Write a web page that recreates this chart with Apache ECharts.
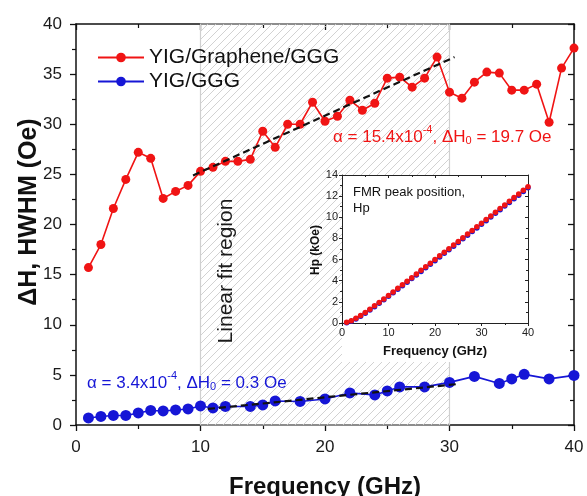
<!DOCTYPE html>
<html><head><meta charset="utf-8">
<script src="https://cdn.jsdelivr.net/npm/echarts@6/dist/echarts.min.js"></script>
<style>html,body{margin:0;padding:0;background:#fff}#c{width:587px;height:496px}</style>
</head><body><div id="c"></div>
<script>
// ---- data ----
const freqRed = [1,2,3,4,5,6,7,8,9,10,11,12,13,14,15,16,17,18,19,20,21,22,23,24,25,26,27,28,29,30,31,32,33,34,35,36,37,38,39,40];
const dhRed = [15.7,18.0,21.6,24.5,27.2,26.6,22.6,23.3,23.9,25.3,25.7,26.3,26.3,26.5,29.3,27.7,30.0,30.0,32.2,30.3,30.8,32.4,31.4,32.1,34.6,34.7,33.7,34.6,36.7,33.2,32.6,34.2,35.2,35.1,33.4,33.4,34.0,30.2,35.6,37.6];
const freqBlue = [1,2,3,4,5,6,7,8,9,10,11,12,14,15,16,18,20,22,24,25,26,28,30,32,34,35,36,38,40];
const dhBlue = [0.7,0.85,0.95,0.95,1.2,1.45,1.4,1.5,1.6,1.9,1.7,1.85,1.85,2.0,2.4,2.35,2.6,3.2,3.0,3.4,3.8,3.8,4.25,4.85,4.15,4.6,5.05,4.6,4.95];
const fitRedX = [9.4, 30.4];
const fitRedY = [24.9, 36.7];
const fitBlueX = [10.6, 30.8];
const fitBlueY = [1.6, 4.1];
const fitRegion = [10, 30];
const insetFreq = [1,2,3,4,5,6,7,8,9,10,11,12,13,14,15,16,17,18,19,20,21,22,23,24,25,26,27,28,29,30,31,32,33,34,35,36,37,38,39,40];
const hpRed = [0.06,0.22,0.44,0.71,1.00,1.31,1.62,1.95,2.28,2.61,2.94,3.28,3.61,3.95,4.29,4.63,4.98,5.32,5.66,6.00,6.35,6.69,7.03,7.38,7.72,8.06,8.41,8.75,9.10,9.44,9.79,10.13,10.48,10.82,11.17,11.51,11.86,12.21,12.55,12.90];
const hpBlue = [0.02,0.17,0.38,0.64,0.93,1.23,1.54,1.87,2.20,2.52,2.86,3.19,3.52,3.86,4.20,4.54,4.88,5.22,5.56,5.90,6.25,6.59,6.93,7.27,7.62,7.96,8.30,8.65,8.99,9.33,9.68,10.03,10.37,10.72,11.06,11.41,11.75,12.09,12.44,12.80];

const RED = '#f01414', BLUE = '#1616d6';
const FONT = 'Liberation Sans, Arial, sans-serif';
const zip = (a,b) => a.map((v,i)=>[v,b[i]]);

// hatch pattern
const T = 8;
const pc = document.createElement('canvas');
pc.width = T; pc.height = T;
const pctx = pc.getContext('2d');
pctx.strokeStyle = '#cdcdcd'; pctx.lineWidth = 0.9;
pctx.beginPath();
pctx.moveTo(-1,T+1); pctx.lineTo(T+1,-1);
pctx.moveTo(-1,1); pctx.lineTo(1,-1);
pctx.moveTo(T-1,T+1); pctx.lineTo(T+1,T-1);
pctx.stroke();

const chart = echarts.init(document.getElementById('c'), null, {renderer:'canvas'});

function mkAxis(extra){
  return Object.assign({
    type:'value', splitLine:{show:false},
    axisLine:{show:true, onZero:false, lineStyle:{color:'#111', width:1.5}},
    axisTick:{show:true, inside:false, length:6, lineStyle:{color:'#111', width:1.3}},
    minorTick:{show:true, splitNumber:2, length:4, lineStyle:{color:'#111', width:1.2}},
    axisLabel:{show:true, color:'#1a1a1a', fontSize:17, fontFamily:FONT, margin:14}
  }, extra);
}
const insetLine = {show:true, onZero:false, lineStyle:{color:'#222', width:1}};

const option = {
  animation:false,
  backgroundColor:'#fff',
  grid:[
    {left:76, top:24, right:13, bottom:71, outerBoundsMode:'none', containLabel:false},
    {left:342, top:175, width:186, height:148, outerBoundsMode:'none', containLabel:false}
  ],
  legend:{
    data:['YIG/Graphene/GGG','YIG/GGG'],
    left:92, top:42, orient:'vertical', itemWidth:46, itemHeight:12, itemGap:3,
    textStyle:{fontSize:21, color:'#111', fontFamily:FONT}
  },
  xAxis:[
    mkAxis({gridIndex:0, min:0, max:40, interval:10, position:'bottom',
      name:'Frequency (GHz)', nameLocation:'middle', nameGap:50,
      nameTextStyle:{fontSize:24, fontWeight:'bold', color:'#111', fontFamily:FONT}}),
    mkAxis({gridIndex:0, min:0, max:40, interval:10, position:'top',
      axisTick:{show:true, inside:true, length:6, lineStyle:{color:'#111', width:1.3}},
      minorTick:{show:true, splitNumber:2, length:4, lineStyle:{color:'#111', width:1.2}},
      axisLabel:{show:false}}),
    mkAxis({gridIndex:1, min:0, max:40, interval:10, position:'bottom', z:12,
      axisLine:insetLine,
      axisTick:{show:true, length:3, lineStyle:{color:'#222', width:1}},
      minorTick:{show:true, splitNumber:2, length:2, lineStyle:{color:'#222', width:1}},
      axisLabel:{color:'#222', fontSize:11, fontFamily:FONT, margin:4},
      name:'Frequency (GHz)', nameLocation:'middle', nameGap:22,
      nameTextStyle:{fontSize:13, fontWeight:'bold', color:'#111', fontFamily:FONT}}),
    mkAxis({gridIndex:1, min:0, max:40, interval:10, position:'top', z:12,
      axisLine:insetLine,
      axisTick:{show:true, inside:true, length:3, lineStyle:{color:'#222', width:1}},
      minorTick:{show:true, splitNumber:2, length:2, lineStyle:{color:'#222', width:1}},
      axisLabel:{show:false}})
  ],
  yAxis:[
    mkAxis({gridIndex:0, min:0, max:40, interval:5, position:'left'}),
    mkAxis({gridIndex:0, min:0, max:40, interval:5, position:'right',
      axisTick:{show:true, inside:true, length:6, lineStyle:{color:'#111', width:1.3}},
      minorTick:{show:true, splitNumber:2, length:4, lineStyle:{color:'#111', width:1.2}},
      axisLabel:{show:false}}),
    mkAxis({gridIndex:1, min:0, max:14, interval:2, position:'left', z:12,
      axisLine:insetLine,
      axisTick:{show:true, length:3, lineStyle:{color:'#222', width:1}},
      minorTick:{show:true, splitNumber:2, length:2, lineStyle:{color:'#222', width:1}},
      axisLabel:{color:'#222', fontSize:11, fontFamily:FONT, margin:4}}),
    mkAxis({gridIndex:1, min:0, max:14, interval:2, position:'right', z:12,
      axisLine:insetLine,
      axisTick:{show:true, inside:true, length:3, lineStyle:{color:'#222', width:1}},
      minorTick:{show:true, splitNumber:2, length:2, lineStyle:{color:'#222', width:1}},
      axisLabel:{show:false}})
  ],
  graphic:[
    {type:'rect', z:8, shape:{x:342, y:175, width:186, height:187}, style:{fill:'#fff'}, silent:true},
    {type:'text', z:9, x:226, y:271, rotation:Math.PI/2,
      style:{text:'Linear fit region', font:'21px '+FONT, fill:'#1a1a1a', align:'center', verticalAlign:'middle'}},
    {type:'text', z:60, x:29, y:212, rotation:Math.PI/2,
      style:{text:'ΔH, HWHM (Oe)', font:'bold 25px '+FONT, fill:'#111', align:'center', verticalAlign:'middle'}},
    {type:'text', z:60, x:316, y:250, rotation:Math.PI/2,
      style:{text:'Hp (kOe)', font:'bold 12px '+FONT, fill:'#111', align:'center', verticalAlign:'middle'}},
    {type:'text', z:120, x:353, y:184,
      style:{text:'FMR peak position,\nHp', font:'13px '+FONT, fill:'#111', lineHeight:16}},
    {type:'text', z:60, x:333, y:124,
      style:{text:'{a|α = 15.4x10}{sup|-4}{a|, ΔH}{sub|0}{a| = 19.7 Oe}',
        rich:{
          a:{fontSize:17, fontFamily:FONT, fill:RED, lineHeight:22, verticalAlign:'bottom'},
          sup:{fontSize:11, fontFamily:FONT, fill:RED, lineHeight:22, verticalAlign:'top'},
          sub:{fontSize:11, fontFamily:FONT, fill:RED, lineHeight:12, verticalAlign:'bottom'}
        }}},
    {type:'text', z:60, x:87, y:370,
      style:{text:'{a|α = 3.4x10}{sup|-4}{a|, ΔH}{sub|0}{a| = 0.3 Oe}',
        rich:{
          a:{fontSize:17, fontFamily:FONT, fill:BLUE, lineHeight:22, verticalAlign:'bottom'},
          sup:{fontSize:11, fontFamily:FONT, fill:BLUE, lineHeight:22, verticalAlign:'top'},
          sub:{fontSize:11, fontFamily:FONT, fill:BLUE, lineHeight:12, verticalAlign:'bottom'}
        }}}
  ],
  series:[
    {type:'line', name:'region', xAxisIndex:0, yAxisIndex:0, data:[], z:1, silent:true,
      markArea:{silent:true, z:1,
        itemStyle:{color:{image:pc, repeat:'repeat'}, borderColor:'#d0d0d0', borderWidth:1.2},
        data:[[{xAxis:fitRegion[0], yAxis:0},{xAxis:fitRegion[1], yAxis:40}]]}},
    {type:'line', name:'YIG/Graphene/GGG', xAxisIndex:0, yAxisIndex:0, data:zip(freqRed, dhRed), z:4,
      symbol:'circle', symbolSize:9, itemStyle:{color:RED}, lineStyle:{color:RED, width:1.6}},
    {type:'line', name:'YIG/GGG', xAxisIndex:0, yAxisIndex:0, data:zip(freqBlue, dhBlue), z:4,
      symbol:'circle', symbolSize:11, itemStyle:{color:BLUE}, lineStyle:{color:BLUE, width:1.6}},
    {type:'line', name:'fitRed', xAxisIndex:0, yAxisIndex:0, data:zip(fitRedX, fitRedY), z:5, symbol:'none',
      lineStyle:{color:'#111', width:2.2, type:[7,4]}},
    {type:'line', name:'fitBlue', xAxisIndex:0, yAxisIndex:0, data:zip(fitBlueX, fitBlueY), z:5, symbol:'none',
      lineStyle:{color:'#111', width:2.2, type:[7,4]}},
    {type:'line', name:'insetBlue', xAxisIndex:2, yAxisIndex:2, data:zip(insetFreq, hpBlue), z:100,
      symbol:'circle', symbolSize:5.5, itemStyle:{color:BLUE}, lineStyle:{color:BLUE, width:1}},
    {type:'line', name:'insetRed', xAxisIndex:2, yAxisIndex:2, data:zip(insetFreq, hpRed), z:101,
      symbol:'circle', symbolSize:5.5, itemStyle:{color:RED}, lineStyle:{color:RED, width:1}}
  ]
};
chart.setOption(option);
</script>
</body></html>
